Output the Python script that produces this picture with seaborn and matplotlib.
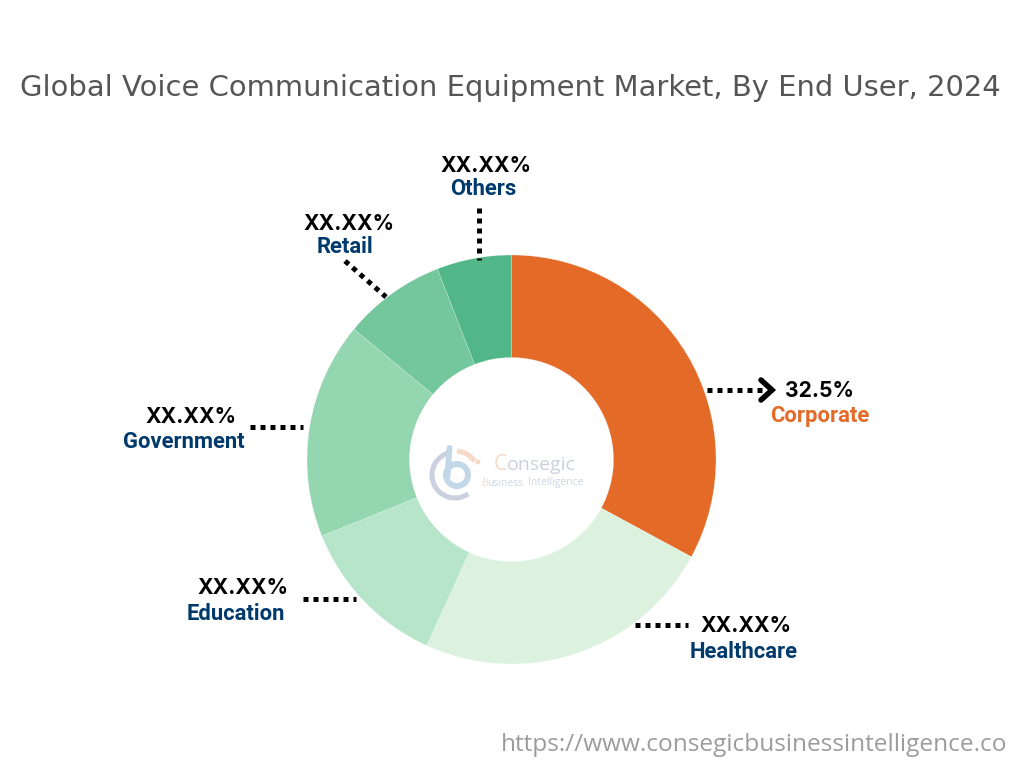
import matplotlib as mpl

mpl.use('Agg')
import matplotlib.pyplot as plt
from matplotlib.patches import Arc, Circle
import seaborn as sns

## Chart data
TITLE = 'Global Voice Communication Equipment Market, By End User, 2024'
URL = 'https://www.consegicbusinessintelligence.co'
segments = ['Corporate', 'Healthcare', 'Education', 'Government', 'Retail', 'Others']
# wedge sizes, in percent
shares = [32.9, 23.9, 12.1, 17.1, 8.1, 5.9]
value_labels = ['32.5%', 'XX.XX%', 'XX.XX%', 'XX.XX%', 'XX.XX%', 'XX.XX%']
slice_colors = ['#E46A27', '#DCF2DE', '#B7E5C9', '#93D6B0', '#74C69D', '#52B788']

NAVY = '#003A6C'
ORANGE = '#E46A27'
PX = 0.72  # points per pixel at dpi 100


def py(y):
    # reference pixels have y going down
    return 768 - y


sns.set_theme(style='white')
plt.rcParams['font.family'] = ['Roboto', 'DejaVu Sans']
fig = plt.figure(figsize=(10.24, 7.68), dpi=100)
ax = fig.add_axes([0, 0, 1, 1])

palette = sns.color_palette(slice_colors)
ax.pie(shares, colors=palette, startangle=90, counterclock=False, center=(511.5, py(459.5)), radius=204.5,
       frame=True, wedgeprops={'width': 102.5, 'linewidth': 0.15, 'edgecolor': '#ffffff'})
ax.set_xlim(0, 1024)
ax.set_ylim(0, 768)
ax.set_aspect('equal')
ax.axis('off')

# Title and url
ax.text(510, py(88), TITLE, ha='center', va='center', fontsize=20.9, color='#555555', family='DejaVu Sans')
ax.text(754, py(745), URL, ha='center', va='center', fontsize=17.6, color='#9C9C9C', family='Open Sans')

# Labels: value position, name position for each segment
value_pos = [(819, 391), (746, 626), (243, 588), (191, 417), (349, 224), (486, 166)]
name_pos = [(820, 416), (744, 652), (236, 614), (184, 442), (345, 247), (483, 189)]
name_colors = [ORANGE, NAVY, NAVY, NAVY, NAVY, NAVY]
for i, seg in enumerate(segments):
    vx, vy = value_pos[i]
    nx, ny = name_pos[i]
    ax.text(vx, py(vy), value_labels[i], ha='center', va='center', fontsize=15.2, fontweight='bold', color='black',
            family='Inter')
    ax.text(nx, py(ny), seg, ha='center', va='center', fontsize=15.8, fontweight='bold', color=name_colors[i])

# Dotted leaders
leaders = [((707, 390), (762, 390)), ((635, 625), (688, 625)), ((303, 599), (356, 599)),
           ((250, 427), (303, 427)), ((345, 261), (386, 297)), ((479, 208), (479, 260))]
for (x0, y0), (x1, y1) in leaders:
    ax.plot([x0, x1], [py(y0), py(y1)], color='black', lw=5 * PX, linestyle=(0, (1, 1)), dash_capstyle='butt')

# Arrow head on the corporate leader
ax.plot([761, 772, 761], [py(380), py(390), py(400)], color='black', lw=5.5 * PX, solid_capstyle='round',
        solid_joinstyle='miter')

# Faded logo in the hole
ax.add_patch(Arc((455, py(475)), 46, 46, theta1=100, theta2=305, color='#CBD0DE', lw=5 * PX))
ax.add_patch(Arc((457, py(475)), 22, 22, theta1=0, theta2=360, color='#C2D8E9', lw=6 * PX))
ax.plot([449.5, 447.5], [py(448), py(476)], color='#C2D8E9', lw=6 * PX)
ax.add_patch(Arc((455, py(475)), 48, 48, theta1=35, theta2=85, color='#F6D9C9', lw=5 * PX))
ax.add_patch(Circle((478, py(462)), 2.5, color='#F6D9C9', lw=0))
ax.text(494, py(465), 'C', ha='left', va='center', fontsize=15, color='#F6D9C9', family='Open Sans')
ax.text(507, py(465), 'onsegic', ha='left', va='center', fontsize=14, color='#CBD0DE', family='Open Sans')
ax.text(482, py(483), 'B', ha='left', va='center', fontsize=7.5, color='#F6D9C9', family='Open Sans')
ax.text(487.5, py(483), 'usiness', ha='left', va='center', fontsize=7.5, color='#CBD8E6', family='Open Sans')
ax.text(528, py(483), 'Intelligence', ha='left', va='center', fontsize=7.5, color='#CBD8E6', family='Open Sans')

fig.savefig('out.png', dpi=100, facecolor='white')
